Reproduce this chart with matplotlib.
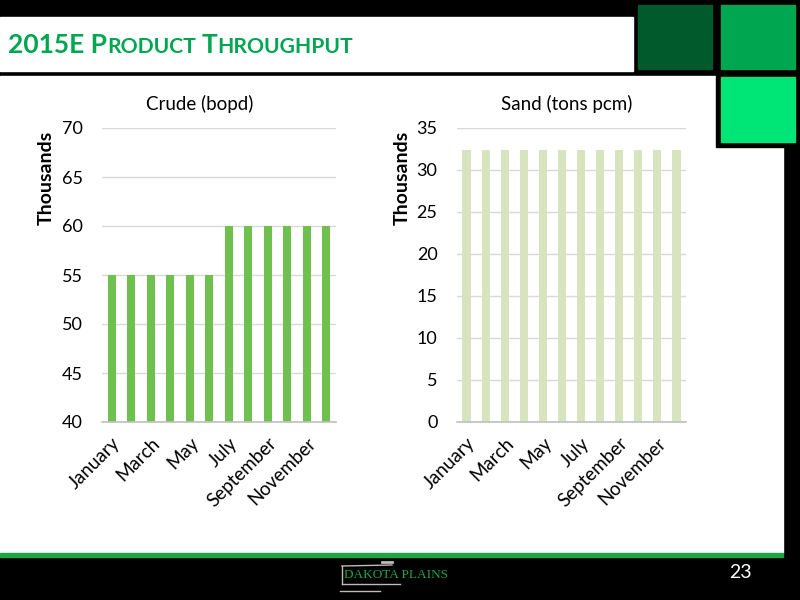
import matplotlib
matplotlib.use("Agg")
import matplotlib.pyplot as plt
from matplotlib.patches import Rectangle

# data
months = ["January", "February", "March", "April", "May", "June",
          "July", "August", "September", "October", "November", "December"]
crude = [55, 55, 55, 55, 55, 55, 60, 60, 60, 60, 60, 60]      # thousands bopd
sand = [32.4, 32.4, 32.4, 32.4, 32.4, 32.4,
        32.4, 32.4, 32.4, 32.4, 32.4, 32.4]                   # thousands tons pcm
crude_ticks = [40, 45, 50, 55, 60, 65, 70]
sand_ticks = [0, 5, 10, 15, 20, 25, 30, 35]

FONT = "Lato"
GREEN_TXT = "#00A650"
CRUDE_COL = "#70C050"
SAND_COL = "#D7E4BD"
GRID_COL = "#D9D9D9"

fig = plt.figure(figsize=(8, 6), dpi=100, facecolor="black")

# slide background, pixel coordinates
bg = fig.add_axes([0, 0, 1, 1])
bg.set_xlim(0, 800)
bg.set_ylim(600, 0)
bg.axis("off")
bg.add_patch(Rectangle((0, 0), 800, 600, color="black"))
bg.add_patch(Rectangle((0, 76), 783, 477, color="white"))
bg.add_patch(Rectangle((0, 17), 633, 54, color="white"))
bg.add_patch(Rectangle((716, 71), 84, 76, color="black"))
bg.add_patch(Rectangle((638, 5), 74, 64, color="#005A2B"))
bg.add_patch(Rectangle((721, 5), 74, 64, color="#00A650"))
bg.add_patch(Rectangle((721, 77), 74, 65, color="#00E676"))
bg.add_patch(Rectangle((0, 553), 783, 4, color="#1DA54A"))

# small caps title
renderer = fig.canvas.get_renderer()
x = 8
for piece, size, gap in [("2015E P", 19, 0), ("RODUCT", 15.2, 6),
                         ("T", 19, 0), ("HROUGHPUT", 15.2, 0)]:
    t = bg.text(x, 53, piece, fontsize=size, fontweight="bold", color=GREEN_TXT,
                family=FONT, va="baseline", ha="left")
    w = t.get_window_extent(renderer).width
    x += w + gap

# footer
bg.text(396, 575, "DAKOTA PLAINS", fontsize=9.5, color="#1DA54A",
        family="Liberation Serif", ha="center", va="center")
bg.plot([342, 342], [566, 584], color="#BBBBBB", lw=1)
bg.plot([342, 392], [566, 565], color="#BBBBBB", lw=1)
bg.plot([382, 392], [562, 562], color="#BBBBBB", lw=2)
bg.plot([342, 400], [584, 584], color="#BBBBBB", lw=1)
bg.plot([340, 380], [591, 591], color="#BBBBBB", lw=1)
bg.text(740, 573, "23", fontsize=14, color="white", family=FONT,
        ha="center", va="center")


def style(ax, vals, color, ticks, title, title_x):
    pos = list(range(len(vals)))
    ax.bar(pos, [v - ticks[0] for v in vals], bottom=ticks[0], width=0.43,
           color=color, zorder=3)
    ax.set_xlim(-0.5, len(vals) - 0.5)
    ax.set_ylim(ticks[0], ticks[-1])
    ax.set_yticks(ticks)
    ax.grid(axis="y", color=GRID_COL, lw=1, zorder=0)
    for s in ["top", "right", "left"]:
        ax.spines[s].set_visible(False)
    ax.spines["bottom"].set_color("#BFBFBF")
    ax.spines["bottom"].set_linewidth(1.2)
    ax.spines["bottom"].set_zorder(4)
    ax.set_xticks(pos[::2])
    ax.set_xticklabels(months[::2], rotation=45, ha="right",
                       rotation_mode="anchor", family=FONT, fontsize=13.5)
    ax.tick_params(axis="both", length=0, colors="black")
    ax.tick_params(axis="y", pad=14)
    ax.tick_params(axis="x", pad=9)
    for lab in ax.get_yticklabels():
        lab.set_family(FONT)
        lab.set_fontsize(13)
    # chart title centred over the whole chart area, not the plot box
    fig.text(title_x / 800, 1 - 104 / 600, title, fontsize=13.5, family=FONT,
             ha="center", va="center")
    ax.set_ylabel("Thousands", fontsize=14, fontweight="bold", family=FONT)


ax1 = fig.add_axes([102 / 800, 1 - 422 / 600, 234 / 800, 294 / 600])
style(ax1, crude, CRUDE_COL, crude_ticks, "Crude (bopd)", 200)
ax1.yaxis.set_label_coords(-47 / 234, 0.83)

ax2 = fig.add_axes([457 / 800, 1 - 422 / 600, 229 / 800, 294 / 600])
style(ax2, sand, SAND_COL, sand_ticks, "Sand (tons pcm)", 567)
ax2.yaxis.set_label_coords(-46 / 229, 0.83)

fig.savefig("out.png", dpi=100, facecolor="black")
